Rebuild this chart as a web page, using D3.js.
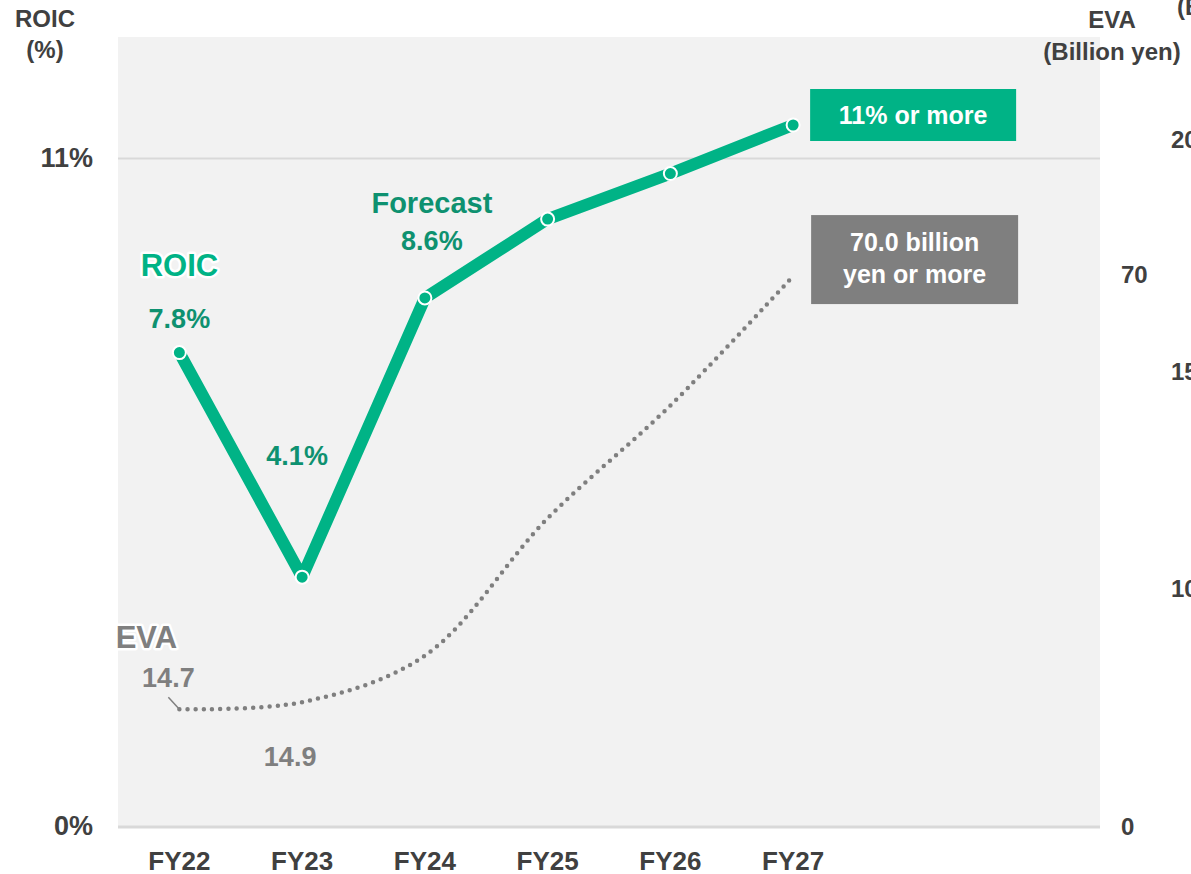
<!DOCTYPE html>
<html><head><meta charset="utf-8">
<script src="https://cdn.jsdelivr.net/npm/d3@7"></script>
<style>
html,body{margin:0;padding:0;background:#fff;overflow:hidden}
svg{display:block}
text{font-family:"Liberation Sans",Arial,sans-serif}
</style></head>
<body>
<svg id="chart" width="1191" height="874"></svg>
<script>
const categories = ["FY22","FY23","FY24","FY25","FY26","FY27"];
const slots = 8;
const roicValues = [7.8, 4.1, 8.7, 10.0, 10.75, 11.55];
const evaValues = [14.8, 15.7, 21.6, 39.0, 53.3, 69.7];
const roicLabels = ["7.8%","4.1%","8.6%"];
const evaLabels = ["14.7","14.9"];
const leftTicks = [0, 11];
const rightTicks = [0, 70];
const ghostTicks = [100, 150, 200];
const roicTarget = "11% or more";
const evaTarget = ["70.0 billion","yen or more"];

const GREEN = "#00B386", DGREEN = "#0E9170", GRAY = "#7F7F7F", AX = "#404040";
const svg = d3.select("#chart");
const plot = {l:118, r:1100, t:37, b:826};

const x = d3.scaleBand().domain(d3.range(slots)).range([plot.l, plot.r]);
const cx = i => x(i) + x.bandwidth()/2;
const yL = d3.scaleLinear().domain([0, 13]).range([plot.b, plot.t]);
const yR = d3.scaleLinear().domain([0, 100]).range([plot.b, plot.t]);
const yG = d3.scaleLinear().domain([100, 200]).range([597, 148]);

// background
svg.append("rect").attr("x",plot.l).attr("y",plot.t).attr("width",plot.r-plot.l).attr("height",plot.b-plot.t).attr("fill","#F2F2F2");
// gridline at 11% and baseline
svg.append("line").attr("x1",plot.l).attr("x2",plot.r).attr("y1",yL(11)).attr("y2",yL(11)).attr("stroke","#D9D9D9").attr("stroke-width",2);
svg.append("line").attr("x1",plot.l).attr("x2",plot.r).attr("y1",yL(0)+1).attr("y2",yL(0)+1).attr("stroke","#D9D9D9").attr("stroke-width",3);

// left axis labels
svg.selectAll(".lt").data(leftTicks).enter().append("text")
  .attr("x",93).attr("y",d=>yL(d)+9).attr("text-anchor","end")
  .attr("font-size",27).attr("font-weight","bold").attr("fill",AX).text(d=>d+"%");
svg.append("text").attr("x",45).attr("y",27).attr("text-anchor","middle").attr("font-size",24).attr("font-weight","bold").attr("fill",AX).text("ROIC");
svg.append("text").attr("x",45).attr("y",58).attr("text-anchor","middle").attr("font-size",24).attr("font-weight","bold").attr("fill",AX).text("(%)");

// right axis labels
svg.selectAll(".rt").data(rightTicks).enter().append("text")
  .attr("x",1121).attr("y",d=>yR(d)+9).attr("text-anchor","start")
  .attr("font-size",24).attr("font-weight","bold").attr("fill",AX).text(d=>d);
svg.append("text").attr("x",1112).attr("y",28).attr("text-anchor","middle").attr("font-size",24).attr("font-weight","bold").attr("fill",AX).text("EVA");
svg.append("text").attr("x",1112).attr("y",60).attr("text-anchor","middle").attr("font-size",24).attr("font-weight","bold").attr("fill",AX).text("(Billion yen)");
// secondary labels partly beyond the right edge, as in the reference
svg.selectAll(".gt").data(ghostTicks).enter().append("text")
  .attr("x",1171).attr("y",d=>yG(d) + (d===150 ? 7 : 0)).attr("text-anchor","start")
  .attr("font-size",24).attr("font-weight","bold").attr("fill",AX).text(d=>d);
svg.append("text").attr("x",1177).attr("y",15).attr("text-anchor","start").attr("font-size",24).attr("font-weight","bold").attr("fill",AX).text("(Billion yen)");

// x axis labels
svg.selectAll(".xt").data(categories).enter().append("text")
  .attr("x",(d,i)=>cx(i)).attr("y",870).attr("text-anchor","middle")
  .attr("font-size",26).attr("font-weight","bold").attr("fill",AX).text(d=>d);

// EVA dotted smooth line
const evaLine = d3.line().x((d,i)=>cx(i)).y(d=>yR(d)).curve(d3.curveCatmullRom.alpha(0.5));
svg.append("path").datum(evaValues).attr("d",evaLine).attr("fill","none")
  .attr("stroke",GRAY).attr("stroke-width",4.5).attr("stroke-linecap","round").attr("stroke-dasharray","0 8.2");
// leader for 14.7
svg.append("line").attr("x1",cx(0)-11).attr("y1",yR(evaValues[0])-12).attr("x2",cx(0)).attr("y2",yR(evaValues[0])).attr("stroke",GRAY).attr("stroke-width",1.5);

// ROIC line
const roicLine = d3.line().x((d,i)=>cx(i)).y(d=>yL(d));
svg.append("path").datum(roicValues).attr("d",roicLine).attr("fill","none")
  .attr("stroke",GREEN).attr("stroke-width",12).attr("stroke-linejoin","round");
svg.selectAll(".rp").data(roicValues).enter().append("circle")
  .attr("cx",(d,i)=>cx(i)).attr("cy",d=>yL(d)).attr("r",6.5)
  .attr("fill",GREEN).attr("stroke","#fff").attr("stroke-width",2);

// series name labels with halo
function halo(t){ return t.attr("stroke","#fff").attr("stroke-width",5).attr("stroke-linejoin","round").attr("paint-order","stroke"); }
halo(svg.append("text").attr("x",cx(0)).attr("y",276).attr("text-anchor","middle")
  .attr("font-family","'Noto Sans',sans-serif").attr("font-size",31).attr("font-weight",600).attr("fill",GREEN).text("ROIC"));
halo(svg.append("text").attr("x",cx(0)-33).attr("y",648).attr("text-anchor","middle")
  .attr("font-family","'Noto Sans',sans-serif").attr("font-size",31).attr("font-weight",600).attr("fill",GRAY).text("EVA"));
svg.append("text").attr("x",cx(2)+7).attr("y",213).attr("text-anchor","middle")
  .attr("font-family","'Noto Sans',sans-serif").attr("font-size",29).attr("font-weight",600).attr("fill",DGREEN).text("Forecast");

// ROIC value labels
const roicLabelPos = [{i:0, y:328, dx:0},{i:1, y:465, dx:-5},{i:2, y:250, dx:7}];
svg.selectAll(".rl").data(roicLabelPos).enter().append("text")
  .attr("x",d=>cx(d.i)+d.dx).attr("y",d=>d.y).attr("text-anchor","middle")
  .attr("font-size",27).attr("font-weight","bold").attr("fill",DGREEN).text((d,k)=>roicLabels[k]);

// EVA value labels
const evaLabelPos = [{i:0, y:687, dx:-11},{i:1, y:766, dx:-12}];
svg.selectAll(".el").data(evaLabelPos).enter().append("text")
  .attr("x",d=>cx(d.i)+d.dx).attr("y",d=>d.y).attr("text-anchor","middle")
  .attr("font-size",27).attr("font-weight","bold").attr("fill",GRAY).text((d,k)=>evaLabels[k]);

// Target boxes
const last = categories.length-1;
const gx = cx(last)+17, gy = yL(roicValues[last])-36;
svg.append("rect").attr("x",gx).attr("y",gy).attr("width",206).attr("height",52).attr("fill",GREEN);
svg.append("text").attr("x",gx+103).attr("y",gy+35).attr("text-anchor","middle").attr("font-size",25).attr("font-weight","bold").attr("fill","#fff").text(roicTarget);

const bx = cx(last)+18, by = yR(evaValues[last])-61;
svg.append("rect").attr("x",bx).attr("y",by).attr("width",207).attr("height",89).attr("fill",GRAY);
svg.selectAll(".bt").data(evaTarget).enter().append("text")
  .attr("x",bx+103.5).attr("y",(d,i)=>by+36+i*32).attr("text-anchor","middle")
  .attr("font-size",25).attr("font-weight","bold").attr("fill","#fff").text(d=>d);
</script>
</body></html>
